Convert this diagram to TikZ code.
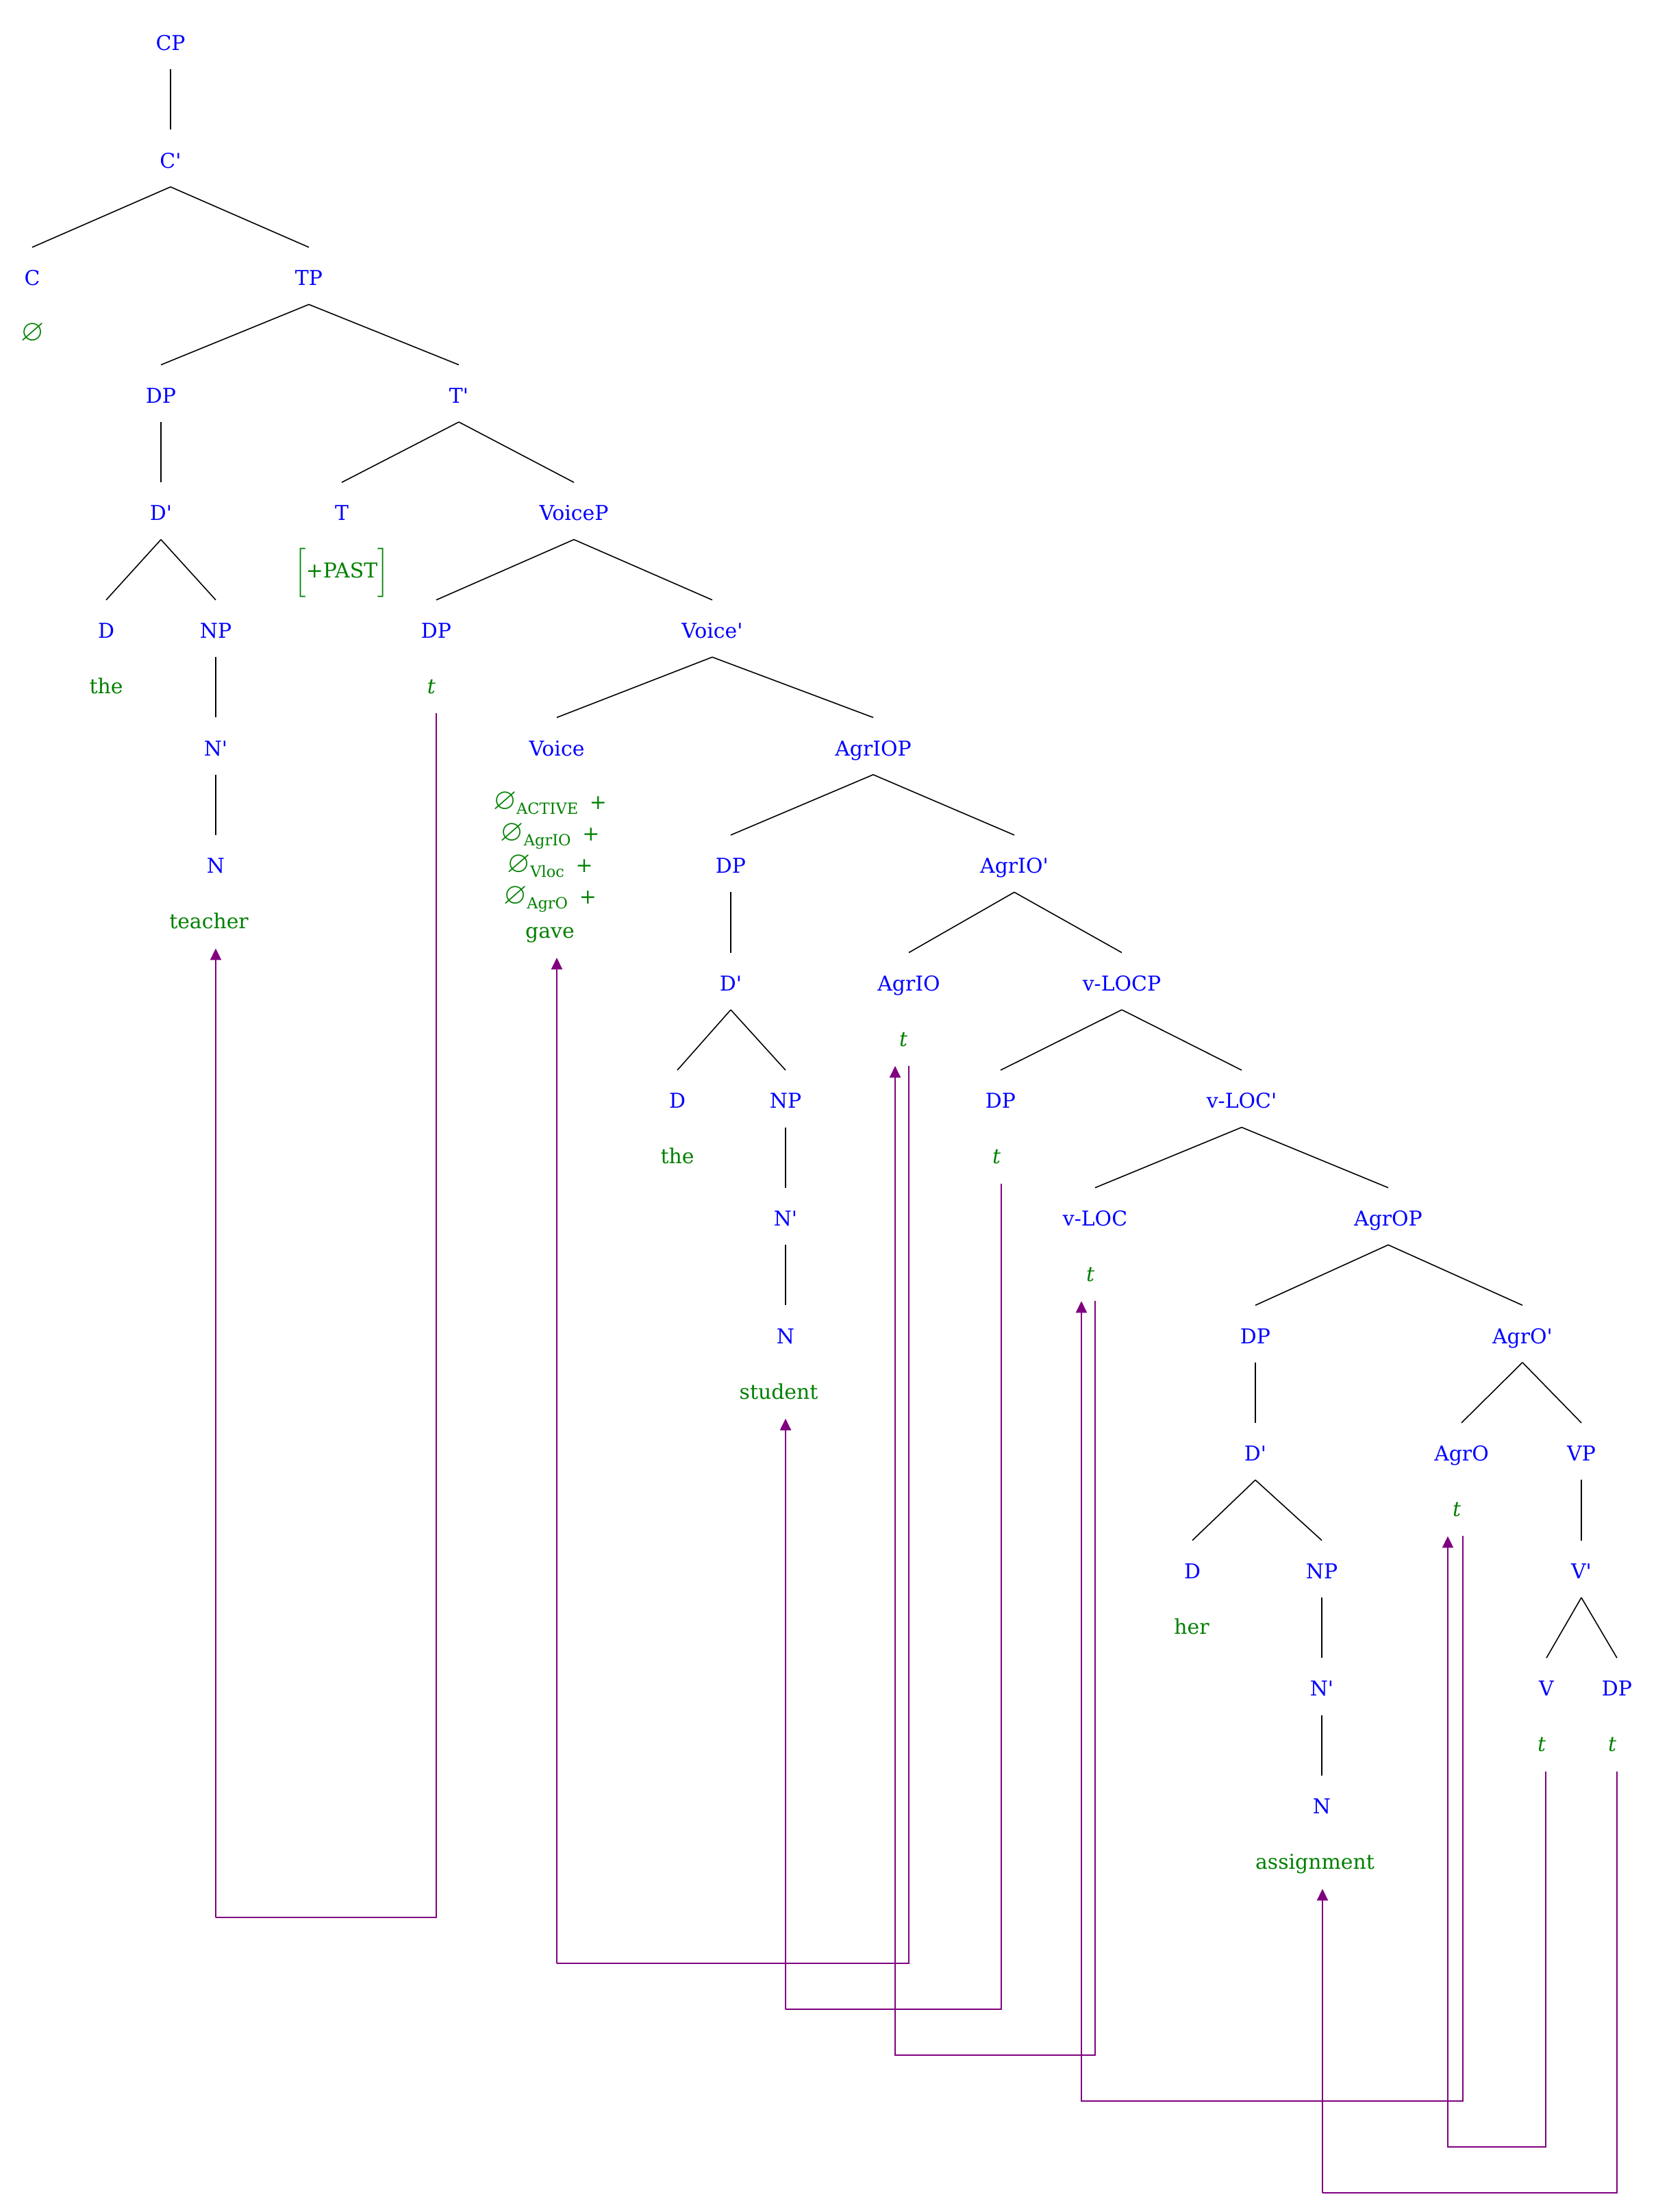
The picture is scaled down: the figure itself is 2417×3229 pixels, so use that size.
\documentclass[tikz,border=0pt]{standalone}
\usepackage{fontspec}
\usepackage{amsmath}
\usepackage{amssymb}
\setmainfont{DejaVu Serif}
\DeclareMathSizes{8.5}{8.5}{6.4}{5}
\usetikzlibrary{arrows.meta}
\definecolor{catblue}{RGB}{0,0,255}
\definecolor{wordgreen}{RGB}{0,128,0}
\definecolor{movepurple}{RGB}{128,0,128}
\newcommand{\bark}{\textquotesingle}
\newcommand{\nul}{\mbox{\fontsize{12.5}{14}\selectfont$\varnothing$}}
\tikzset{
	cat/.style={text=catblue, anchor=base, inner sep=0pt, text height=0.55cm, text depth=0.27cm},
	word/.style={text=wordgreen, anchor=base, inner sep=0pt, text depth=0.28cm},
	trace/.style={word, font=\fontsize{8.5}{13.1}\selectfont\itshape},
	branch/.style={draw=black, line width=0.45pt},
	move/.style={draw=movepurple, line width=0.6pt, -{Triangle[length=0.17cm,width=0.16cm]}}
}

\begin{document}
\begin{tikzpicture}[x=0.01cm, y=-0.01cm, font=\fontsize{8.5}{13.1}\selectfont]
	\useasboundingbox (0,0) rectangle (2417,3229);
	\node[cat] (CP) at (249,73.5) {CP};
	\node[cat] (Cb) at (249,245.1) {C\bark};
	\node[cat] (C) at (47,416.7) {C};
	\node[cat] (TP) at (451,416.7) {TP};
	\node[cat] (DPa) at (235,588.3) {DP};
	\node[cat] (Tb) at (670,588.3) {T\bark};
	\node[cat] (Dba) at (235,759.9) {D\bark};
	\node[cat] (T) at (499,759.9) {T};
	\node[cat] (VoiceP) at (838,759.9) {VoiceP};
	\node[cat] (Da) at (155,931.5) {D};
	\node[cat] (NPa) at (315,931.5) {NP};
	\node[cat] (DPb) at (637,931.5) {DP};
	\node[cat] (Voiceb) at (1040,931.5) {Voice\bark};
	\node[cat] (Nba) at (315,1103.1) {N\bark};
	\node[cat] (Voice) at (813,1103.1) {Voice};
	\node[cat] (AgrIOP) at (1275,1103.1) {AgrIOP};
	\node[cat] (Na) at (315,1274.7) {N};
	\node[cat] (DPc) at (1067,1274.7) {DP};
	\node[cat] (AgrIOb) at (1481,1274.7) {AgrIO\bark};
	\node[cat] (Dbc) at (1067,1446.3) {D\bark};
	\node[cat] (AgrIO) at (1327,1446.3) {AgrIO};
	\node[cat] (vLOCP) at (1638,1446.3) {v-LOCP};
	\node[cat] (Dc) at (989,1617.9) {D};
	\node[cat] (NPc) at (1147,1617.9) {NP};
	\node[cat] (DPd) at (1461,1617.9) {DP};
	\node[cat] (vLOCb) at (1813,1617.9) {v-LOC\bark};
	\node[cat] (Nbc) at (1147,1789.5) {N\bark};
	\node[cat] (vLOC) at (1599,1789.5) {v-LOC};
	\node[cat] (AgrOP) at (2027,1789.5) {AgrOP};
	\node[cat] (Nc) at (1147,1961.1) {N};
	\node[cat] (DPe) at (1833,1961.1) {DP};
	\node[cat] (AgrOb) at (2223,1961.1) {AgrO\bark};
	\node[cat] (Dbe) at (1833,2132.7) {D\bark};
	\node[cat] (AgrO) at (2134,2132.7) {AgrO};
	\node[cat] (VP) at (2309,2132.7) {VP};
	\node[cat] (De) at (1741,2304.3) {D};
	\node[cat] (NPe) at (1930,2304.3) {NP};
	\node[cat] (Vb) at (2309,2304.3) {V\bark};
	\node[cat] (Nbe) at (1930,2475.9) {N\bark};
	\node[cat] (V) at (2258,2475.9) {V};
	\node[cat] (DPf) at (2361,2475.9) {DP};
	\node[cat] (Ne) at (1930,2647.5) {N};

	\node[word] (nullC) at (48,497.7) {\nul};
	\node[word] (thea) at (155,1012.5) {the};
	\node[word] (teacher) at (305,1355.7) {teacher};
	\node[word] (past) at (499,843) {$\biggl[$+PAST$\biggr]$};
	\node[trace] (tDPb) at (630,1012.5) {t};
	\node[word, align=center, anchor=south] (gave) at (803,1398) {$\nul_{\text{ACTIVE}}$\enspace+\\
		$\nul_{\text{AgrIO}}$\enspace+\\
		$\nul_{\text{Vloc}}$\enspace+\\
		$\nul_{\text{AgrO}}$\enspace+\\[1.1pt]
		gave};
	\node[word] (theb) at (989,1698.9) {the};
	\node[word] (student) at (1137,2042.1) {student};
	\node[trace] (tAgrIO) at (1319,1527.3) {t};
	\node[trace] (tDPd) at (1455,1698.9) {t};
	\node[trace] (tvLOC) at (1592,1870.5) {t};
	\node[word] (her) at (1740,2385.3) {her};
	\node[trace] (tAgrO) at (2127,2213.7) {t};
	\node[word] (assignment) at (1920,2728.5) {assignment};
	\node[trace] (tV) at (2251,2556.9) {t};
	\node[trace] (tDPf) at (2354,2556.9) {t};

	\foreach \a/\b in {CP/Cb, Cb/C, Cb/TP, TP/DPa, TP/Tb, DPa/Dba, Dba/Da, Dba/NPa, NPa/Nba, Nba/Na,
		Tb/T, Tb/VoiceP, VoiceP/DPb, VoiceP/Voiceb, Voiceb/Voice, Voiceb/AgrIOP,
		AgrIOP/DPc, AgrIOP/AgrIOb, DPc/Dbc, Dbc/Dc, Dbc/NPc, NPc/Nbc, Nbc/Nc,
		AgrIOb/AgrIO, AgrIOb/vLOCP, vLOCP/DPd, vLOCP/vLOCb, vLOCb/vLOC, vLOCb/AgrOP,
		AgrOP/DPe, AgrOP/AgrOb, DPe/Dbe, Dbe/De, Dbe/NPe, NPe/Nbe, Nbe/Ne,
		AgrOb/AgrO, AgrOb/VP, VP/Vb, Vb/V, Vb/DPf}
		\draw[branch] (\a.south) -- (\b.north);

	\coordinate (m1) at (315,2799);
	\coordinate (m2) at (813,2866);
	\coordinate (m3) at (1147,2933);
	\coordinate (m4) at (1307,3000);
	\coordinate (m5) at (1579,3067);
	\coordinate (m6) at (2114,3134);
	\coordinate (m7) at (1931,3201);
	\draw[move] ([xshift=0.07cm]tDPb.south) |- (m1) -| ([xshift=0.1cm]teacher.south);
	\draw[move] ([xshift=0.08cm]tAgrIO.south) |- (m2) -| ([xshift=0.1cm]gave.south);
	\draw[move] ([xshift=0.07cm]tDPd.south) |- (m3) -| ([xshift=0.1cm]student.south);
	\draw[move] ([xshift=0.07cm]tvLOC.south) |- (m4) -| ([xshift=-0.12cm]tAgrIO.south);
	\draw[move] ([xshift=0.09cm]tAgrO.south) |- (m5) -| ([xshift=-0.13cm]tvLOC.south);
	\draw[move] ([xshift=0.06cm]tV.south) |- (m6) -| ([xshift=-0.13cm]tAgrO.south);
	\draw[move] ([xshift=0.07cm]tDPf.south) |- (m7) -| ([xshift=0.11cm]assignment.south);
\end{tikzpicture}
\end{document}
